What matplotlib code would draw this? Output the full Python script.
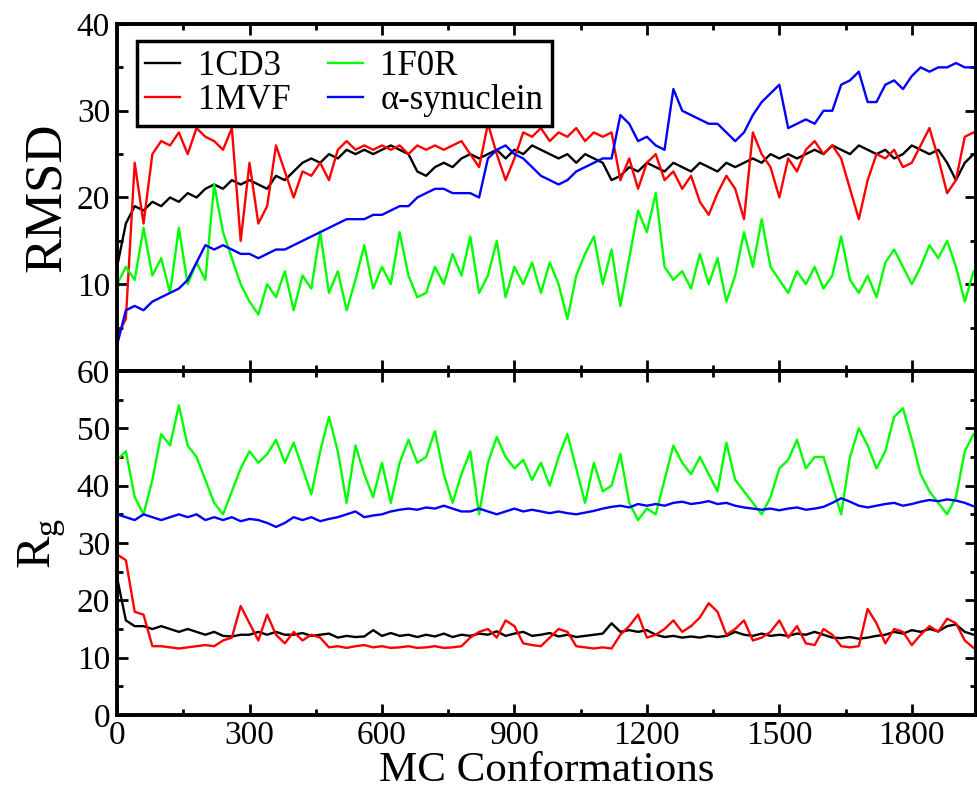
import numpy as np
import matplotlib
matplotlib.use("Agg")
import matplotlib.pyplot as plt
from matplotlib.ticker import MultipleLocator

plt.rcParams['font.family'] = ['Liberation Serif', 'DejaVu Serif']
plt.rcParams['mathtext.fontset'] = 'custom'
plt.rcParams['mathtext.rm'] = 'Liberation Serif'

# MC conformation index, sampled every 20 conformations
conformations = np.arange(0, 1961, 20)

labels = ['1CD3', '1MVF', '1F0R', 'α-synuclein']
colors = ['black', 'red', '#00ff00', 'blue']

# RMSD values
rmsd_1cd3 = [12, 17, 19, 18.5, 19.5, 19, 20, 19.5, 20.5, 20,
             21, 21.5, 21, 22, 21.5, 22, 21.5, 21, 22.5, 22,
             23, 24, 24.5, 24, 25, 24.5, 25.5, 25, 25.5, 25,
             25.5, 26, 25.5, 25, 23, 22.5, 23.5, 24, 23.5, 24.5,
             25, 24.5, 25, 25.5, 24.5, 25.5, 25, 26, 25.5, 25,
             24.5, 25, 24, 25, 24.5, 24, 22, 22.5, 23.5, 23,
             24, 23.5, 23, 24, 23.5, 23, 24, 23.5, 23, 24,
             23.5, 24, 24.5, 24, 25, 24.5, 25, 24.5, 25, 25.5,
             25, 26, 25.5, 25, 26, 25.5, 25, 25.5, 24.5, 25,
             26, 25.5, 25, 25.5, 24, 22, 24, 25, 24.5]
rmsd_1mvf = [4, 6, 24, 17, 25, 26.5, 26, 27.5, 25, 28,
             27, 26.5, 25.5, 28, 15, 24, 17, 19, 26, 23,
             20, 23, 22.5, 24, 22, 25.5, 26.5, 25.5, 26, 25.5,
             26, 25.5, 26, 25, 26, 25.5, 26, 25.5, 26, 26.5,
             25, 23.5, 28.5, 25, 22, 24.5, 27.5, 27, 28, 26.5,
             27.5, 27, 28, 26.5, 27.5, 27, 27.5, 22, 24.5, 21,
             24, 25, 22, 23, 21, 22.5, 19.5, 18, 20.5, 22.5,
             21, 17.5, 27.5, 25, 23.5, 20, 24.5, 23, 25.5, 26.5,
             25, 26, 24.5, 21, 17.5, 22, 25, 24.5, 25.5, 23.5,
             24, 26, 28, 24.5, 20.5, 22, 27, 27.5, 27]
rmsd_1f0r = [10, 12, 10.5, 16.5, 11, 13, 9, 16.5, 10, 12.5,
             10.5, 21.5, 16, 13, 10, 8, 6.5, 10, 8.5, 11.5,
             7, 11, 9.5, 16, 9, 11.5, 7, 10.5, 14.5, 9.5,
             12, 10, 16, 11, 8.5, 9, 12, 10, 13.5, 11,
             15.5, 9, 11, 15, 8.5, 12, 10, 12.5, 9, 12.5,
             10, 6, 11, 13.5, 15.5, 10, 14, 7.5, 13, 18.5,
             16, 20.5, 12, 10.5, 11.5, 9.5, 13.5, 10, 13, 8,
             11, 16, 12, 17.5, 12, 10.5, 9, 11.5, 10, 12,
             9.5, 11, 15.5, 10.5, 9, 11, 8.5, 12.5, 14, 12,
             10, 12, 14.5, 13, 15, 12, 8, 11.5, 12]
rmsd_asyn = [3, 7, 7.5, 7, 8, 8.5, 9, 9.5, 10.5, 12.5,
             14.5, 14, 14.5, 14, 13.5, 13.5, 13, 13.5, 14, 14,
             14.5, 15, 15.5, 16, 16.5, 17, 17.5, 17.5, 17.5, 18,
             18, 18.5, 19, 19, 20, 20.5, 21, 21, 20.5, 20.5,
             20.5, 20, 24.5, 25.5, 26, 25, 24.5, 23.5, 22.5, 22,
             21.5, 22, 23, 23.5, 24, 24.5, 24.5, 29.5, 28.5, 26.5,
             27, 26, 25.5, 32.5, 30, 29.5, 29, 28.5, 28.5, 27.5,
             26.5, 27.5, 29.5, 31, 32, 33, 28, 28.5, 29, 28.5,
             30, 30, 33, 33.5, 34.5, 31, 31, 33, 33.5, 32.5,
             34, 35, 34.5, 35, 35, 35.5, 35, 35, 35]

# Radius of gyration values
rg_1cd3 = [24, 16.5, 15.5, 15.5, 15, 15.5, 15, 14.5, 15, 14.5,
           14, 14.5, 13.8, 13.7, 14, 14, 14.5, 14, 14.5, 14,
           14, 14.3, 13.8, 14, 14.2, 13.5, 13.8, 13.6, 13.7, 14.8,
           13.8, 14.3, 13.8, 14, 13.6, 14, 13.7, 14.2, 13.6, 14,
           13.8, 14.2, 14, 14.6, 13.8, 14.2, 14.5, 13.8, 14, 14.3,
           13.7, 14, 13.6, 13.8, 14, 14.2, 16, 14.5, 14.8, 14.5,
           14.8, 14, 13.6, 13.8, 13.5, 13.7, 13.5, 13.8, 13.6, 13.8,
           14.5, 14, 13.8, 14.2, 13.8, 14, 13.8, 14.2, 14, 14.5,
           14, 13.5, 13.4, 13.6, 13.3, 13.5, 13.8, 14, 14.5, 14.2,
           14.8, 14.5, 15, 14.6, 15.5, 15.8, 14.5, 14, 14]
rg_1mvf = [28, 27, 18, 17.5, 12, 12, 11.8, 11.6, 11.8, 12,
           12.2, 12, 13, 13.5, 19, 16, 13, 17.5, 14, 12.5,
           14.5, 13, 14, 13.5, 11.8, 12, 11.7, 12, 12.2, 11.8,
           12, 11.7, 11.8, 12, 11.7, 11.8, 12, 11.7, 11.8, 12,
           13.5, 14.5, 15, 13.5, 16.5, 15.5, 12.5, 12.2, 12, 13.5,
           15, 14.5, 12, 11.8, 11.6, 11.8, 11.6, 14, 15.5, 17.5,
           13.5, 14, 15, 16.5, 14.5, 15.5, 17, 19.5, 18, 14,
           15, 16.5, 13, 13.5, 14.5, 16.5, 13.5, 15.5, 12.5, 12.2,
           15, 14, 12, 11.8, 12, 18.5, 16, 12.5, 15, 14.5,
           12.2, 14, 15.5, 14.5, 16.8, 16, 13, 11.7, 11.7]
rg_1f0r = [44.5, 46, 38, 35, 41, 49, 47, 54, 47, 45,
           41, 37, 35, 39, 43, 46, 44, 45.5, 48, 44,
           47.5, 43, 38.5, 46, 52, 46, 37, 47, 42, 38,
           44, 37, 44, 48, 44, 45, 49.5, 42, 37, 42,
           46, 35, 44, 48.5, 45, 43, 44.5, 41, 44, 40,
           45, 49, 43, 37, 44, 39, 40, 45.5, 37, 34,
           36, 35, 41, 47, 44, 42, 45, 42, 39, 47.5,
           41, 39, 37, 35, 38, 43, 44.5, 48, 43, 45,
           45, 40, 35, 45, 50, 47, 43, 46, 52, 53.5,
           48, 42, 39, 37, 35, 38, 46, 49, 49]
rg_asyn = [35, 34.5, 34, 35, 34.5, 34, 34.5, 35, 34.5, 35,
           34, 34.5, 34, 34.5, 33.8, 34.2, 34, 33.5, 32.8, 33.5,
           34.5, 34, 34.5, 33.8, 34.2, 34.5, 35, 35.5, 34.5, 34.8,
           35, 35.5, 35.8, 36, 35.8, 36.2, 36, 36.5, 36, 35.5,
           35.5, 36, 35.5, 35, 35.5, 36, 35.5, 35.8, 35.5, 35.2,
           35.5, 35.2, 35, 35.3, 35.6, 36, 36.3, 36.5, 36.2, 36.8,
           36.5, 36.8, 36.5, 37, 37.2, 36.8, 37, 37.3, 36.8, 37,
           36.5, 36.2, 36, 35.8, 36, 35.7, 36, 36.2, 35.8, 36,
           36.3, 37, 37.8, 37.2, 36.5, 36.2, 36.5, 36.8, 37, 36.5,
           36.8, 37.2, 37.5, 37.3, 37.6, 37.4, 37, 36.4, 36]

rmsd_series = [rmsd_1cd3, rmsd_1mvf, rmsd_1f0r, rmsd_asyn]
rg_series = [rg_1cd3, rg_1mvf, rg_1f0r, rg_asyn]

fig = plt.figure(figsize=(9.77, 7.92), dpi=100)
ax1 = fig.add_axes([0.1198, 0.5316, 0.8790, 0.4381])
ax2 = fig.add_axes([0.1198, 0.0972, 0.8790, 0.4344])

for vals, lab, col in zip(rmsd_series, labels, colors):
    ax1.plot(conformations, vals, color=col, linewidth=1.7, label=lab)
for vals, col in zip(rg_series, colors):
    ax2.plot(conformations, vals, color=col, linewidth=1.7)

# Axes styling
for ax in (ax1, ax2):
    ax.set_xlim(0, 1945)
    ax.xaxis.set_major_locator(MultipleLocator(300))
    ax.xaxis.set_minor_locator(MultipleLocator(150))
    ax.yaxis.set_minor_locator(MultipleLocator(5))
    ax.tick_params(which='both', direction='in', top=True, right=True, width=2)
    ax.tick_params(which='major', length=8, labelsize=24, pad=5)
    ax.tick_params(which='minor', length=4.5)
    for sp in ax.spines.values():
        sp.set_linewidth(2.8)

ax1.set_ylim(0, 40)
ax1.set_yticks([0, 10, 20, 30, 40])
ax1.set_yticklabels(['', '10', '20', '30', '40'])
ax1.tick_params(axis='x', labelbottom=False)
ax1.set_ylabel('RMSD', fontsize=38, labelpad=4)

ax2.set_ylim(0, 60)
ax2.set_yticks([0, 10, 20, 30, 40, 50, 60])
ax2.tick_params(axis='x', pad=4)
ax2.set_ylabel(r'R$_{\mathrm{g}}$', fontsize=35, labelpad=6)
ax2.set_xlabel('MC Conformations', fontsize=31, labelpad=0)

leg = ax1.legend(loc='upper left', bbox_to_anchor=(0.023, 0.951), borderaxespad=0,
                 ncol=2, fontsize=25, fancybox=False, framealpha=1,
                 handlelength=1.0, handletextpad=0.5, columnspacing=1.1,
                 labelspacing=0.05, borderpad=0.25)
leg.get_frame().set_edgecolor('black')
leg.get_frame().set_linewidth(2.5)

fig.savefig('out.png', dpi=100)
